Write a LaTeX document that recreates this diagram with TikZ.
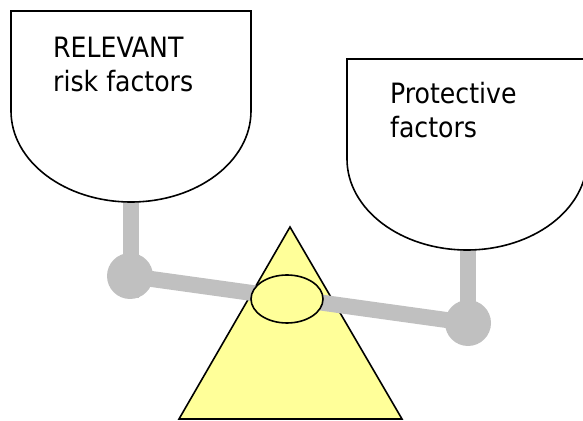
\documentclass[tikz,border=0pt]{standalone}
\usepackage{fontspec}
\setmainfont{DejaVu Sans Condensed}
\definecolor{rodgray}{HTML}{C0C0C0}
\definecolor{baseyellow}{HTML}{FFFF99}
\begin{document}
\begin{tikzpicture}[x=1pt,y=1pt,
  pan/.style={draw=black,line width=1.6pt,fill=white},
  rod/.style={draw=rodgray,line width=16pt},
  ball/.style={fill=rodgray},
  fulcrum/.style={draw=black,line width=1.6pt,fill=baseyellow},
  lbl/.style={font=\fontsize{28}{34}\selectfont,align=left,inner sep=0pt,anchor=base west}]
\useasboundingbox (0,0) rectangle (583,420);
\clip (0,0) rectangle (583,420);
% stems
\coordinate (lb) at (130,144);
\coordinate (rb) at (468,97);
\draw[rod] (131,218) -- (131,122);
\draw[rod] (468,170) -- (rb);
% pans
\draw[pan] (11,409) -- (251,409) -- (251,309) arc[start angle=0,end angle=-180,x radius=120,y radius=91] -- cycle;
\draw[pan] (347,361) -- (587,361) -- (587,261) arc[start angle=0,end angle=-180,x radius=120,y radius=91] -- cycle;
% fulcrum
\draw[fulcrum] (290,193) -- (402,1) -- (179,1) -- cycle;
% beam and balls
\draw[rod] (lb) -- (rb);
\fill[ball] (lb) circle[radius=23];
\fill[ball] (rb) circle[radius=23];
\draw[fulcrum] (287,121) ellipse[x radius=36,y radius=24];
% labels
\node[lbl] (risk) at (53,328) {RELEVANT\\risk factors};
\node[lbl] (prot) at (390,282) {Protective\\factors};
\end{tikzpicture}
\end{document}
